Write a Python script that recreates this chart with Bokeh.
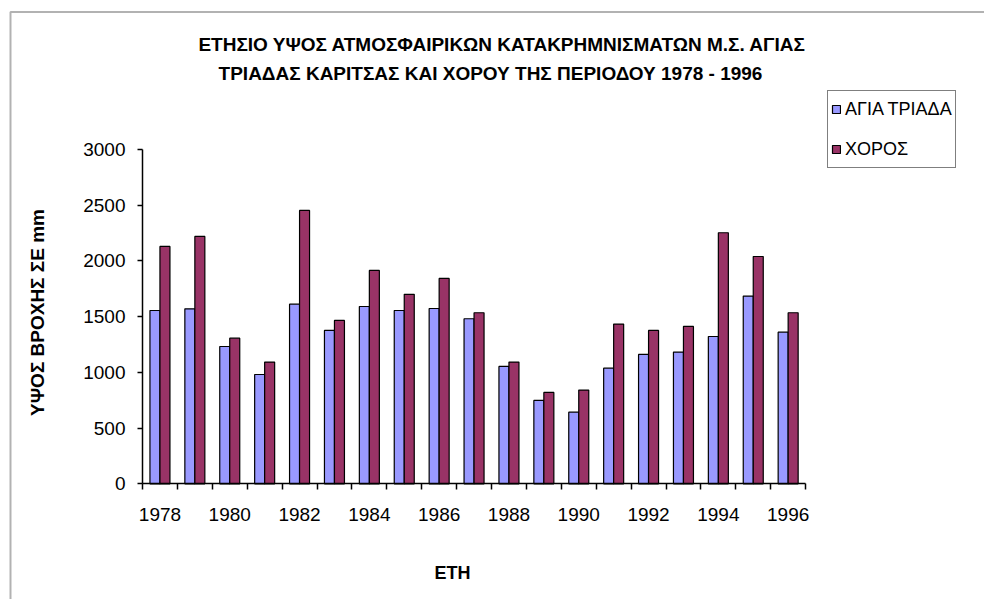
import math
from bokeh.plotting import figure
from bokeh.models import (ColumnDataSource, FixedTicker, Legend, LegendItem,
                          Label, BoxAnnotation, Range1d)
from bokeh.transform import dodge
from bokeh.embed import file_html
from bokeh.resources import INLINE

# ---- data ----
years = list(range(1978, 1997))
agia_triada = [1555, 1570, 1232, 981, 1612, 1376, 1591, 1555, 1573, 1481,
               1053, 748, 643, 1038, 1161, 1182, 1322, 1685, 1361]
xoros = [2130, 2220, 1307, 1092, 2453, 1466, 1915, 1700, 1843, 1535,
         1092, 820, 841, 1433, 1376, 1412, 2253, 2040, 1535]
series_names = ["ΑΓΙΑ ΤΡΙΑΔΑ", "ΧΟΡΟΣ"]
y_ticks = [0, 500, 1000, 1500, 2000, 2500, 3000]
x_tick_years = [1978, 1980, 1982, 1984, 1986, 1988, 1990, 1992, 1994, 1996]
title_lines = ["ΕΤΗΣΙΟ ΥΨΟΣ ΑΤΜΟΣΦΑΙΡΙΚΩΝ ΚΑΤΑΚΡΗΜΝΙΣΜΑΤΩΝ Μ.Σ. ΑΓΙΑΣ",
               "ΤΡΙΑΔΑΣ ΚΑΡΙΤΣΑΣ ΚΑΙ ΧΟΡΟΥ ΤΗΣ ΠΕΡΙΟΔΟΥ 1978 - 1996"]
y_title = "ΥΨΟΣ ΒΡΟΧΗΣ ΣΕ mm"
x_title = "ΕΤΗ"

colors = ["#9999FF", "#993366"]
FONT = "Liberation Sans"

# ---- layout (pixels) ----
W, H = 984, 599
AXIS_X_PX, AXIS_Y_PX = 142, 483.3      # where the axes cross
PX_PER_YEAR = 34.9                     # width of one category
PX_PER_UNIT = 334.3 / y_ticks[-1]      # vertical scale


def xd(px):   # page pixel -> x data
    return years[0] - 0.5 + (px - AXIS_X_PX) / PX_PER_YEAR


def yd(py):   # page pixel -> y data
    return (AXIS_Y_PX - py) / PX_PER_UNIT


src = ColumnDataSource(dict(year=years, agia=agia_triada, xoros=xoros))

p = figure(width=W, height=H, output_backend="svg", toolbar_location=None,
           x_range=Range1d(xd(0), xd(W)), y_range=Range1d(yd(H), yd(0)),
           min_border_left=0, min_border_right=0,
           min_border_top=0, min_border_bottom=0)
p.title.visible = False
p.outline_line_color = None
p.grid.visible = False
p.background_fill_color = "white"
p.border_fill_color = "white"

bw = 0.2865
r1 = p.vbar(x=dodge("year", -bw / 2, range=p.x_range), top="agia", width=bw,
            source=src, fill_color=colors[0], line_color="black", line_width=1.2)
r2 = p.vbar(x=dodge("year", bw / 2, range=p.x_range), top="xoros", width=bw,
            source=src, fill_color=colors[1], line_color="black", line_width=1.2)

# ---- axes (drawn at fixed locations inside the canvas) ----
xa = p.xaxis[0]
xa.fixed_location = y_ticks[0]
xa.bounds = (years[0] - 0.5, years[-1] + 0.5)
xa.ticker = FixedTicker(ticks=x_tick_years,
                        minor_ticks=[y - 0.5 for y in years] + [years[-1] + 0.5])
xa.major_tick_out = 0
xa.major_tick_in = 0
xa.minor_tick_out = 6
xa.minor_tick_in = 0
xa.minor_tick_line_color = "black"
xa.minor_tick_line_width = 1.5
xa.axis_line_width = 1.5
xa.axis_line_color = "black"
xa.major_label_standoff = 18
xa.major_label_text_font = FONT
xa.major_label_text_font_size = "19px"
xa.major_label_text_color = "black"

ya = p.yaxis[0]
ya.fixed_location = years[0] - 0.5
ya.bounds = (y_ticks[0], y_ticks[-1])
ya.ticker = FixedTicker(ticks=y_ticks, minor_ticks=[])
ya.major_tick_out = 5
ya.major_tick_in = 0
ya.major_tick_line_width = 1.5
ya.major_tick_line_color = "black"
ya.axis_line_width = 1.5
ya.axis_line_color = "black"
ya.major_label_standoff = 12
ya.major_label_text_font = FONT
ya.major_label_text_font_size = "19px"
ya.major_label_text_color = "black"

# ---- texts ----
common = dict(text_font=FONT, text_font_style="bold", text_color="black",
              text_align="center", text_baseline="middle")
p.add_layout(Label(x=xd(502), y=yd(44), text=title_lines[0],
                   text_font_size="19px", **common))
p.add_layout(Label(x=xd(490), y=yd(73), text=title_lines[1],
                   text_font_size="19px", **common))
p.add_layout(Label(x=xd(36.5), y=yd(312), text=y_title, angle=math.pi / 2,
                   text_font_size="19px", **common))
p.add_layout(Label(x=xd(452), y=yd(572), text=x_title,
                   text_font_size="18px", **common))

# ---- outer chart-area border (only its left and top edges are in view) ----
p.add_layout(BoxAnnotation(left=xd(10), right=xd(W + 50), top=yd(11.5),
                           bottom=yd(H + 50), fill_color=None,
                           line_color="black", line_width=2))

# ---- legend ----
legend = Legend(items=[LegendItem(label=series_names[0], renderers=[r1]),
                       LegendItem(label=series_names[1], renderers=[r2])],
                location=(827, H - 168), orientation="vertical",
                border_line_color="black", border_line_width=1.5,
                background_fill_color="white", background_fill_alpha=1,
                glyph_width=10, glyph_height=10, label_standoff=4,
                label_height=30, padding=3, spacing=10, margin=0,
                label_text_font=FONT, label_text_font_size="18px",
                label_text_color="black")
p.add_layout(legend, "center")

open("out.html", "w").write(file_html(p, INLINE))
